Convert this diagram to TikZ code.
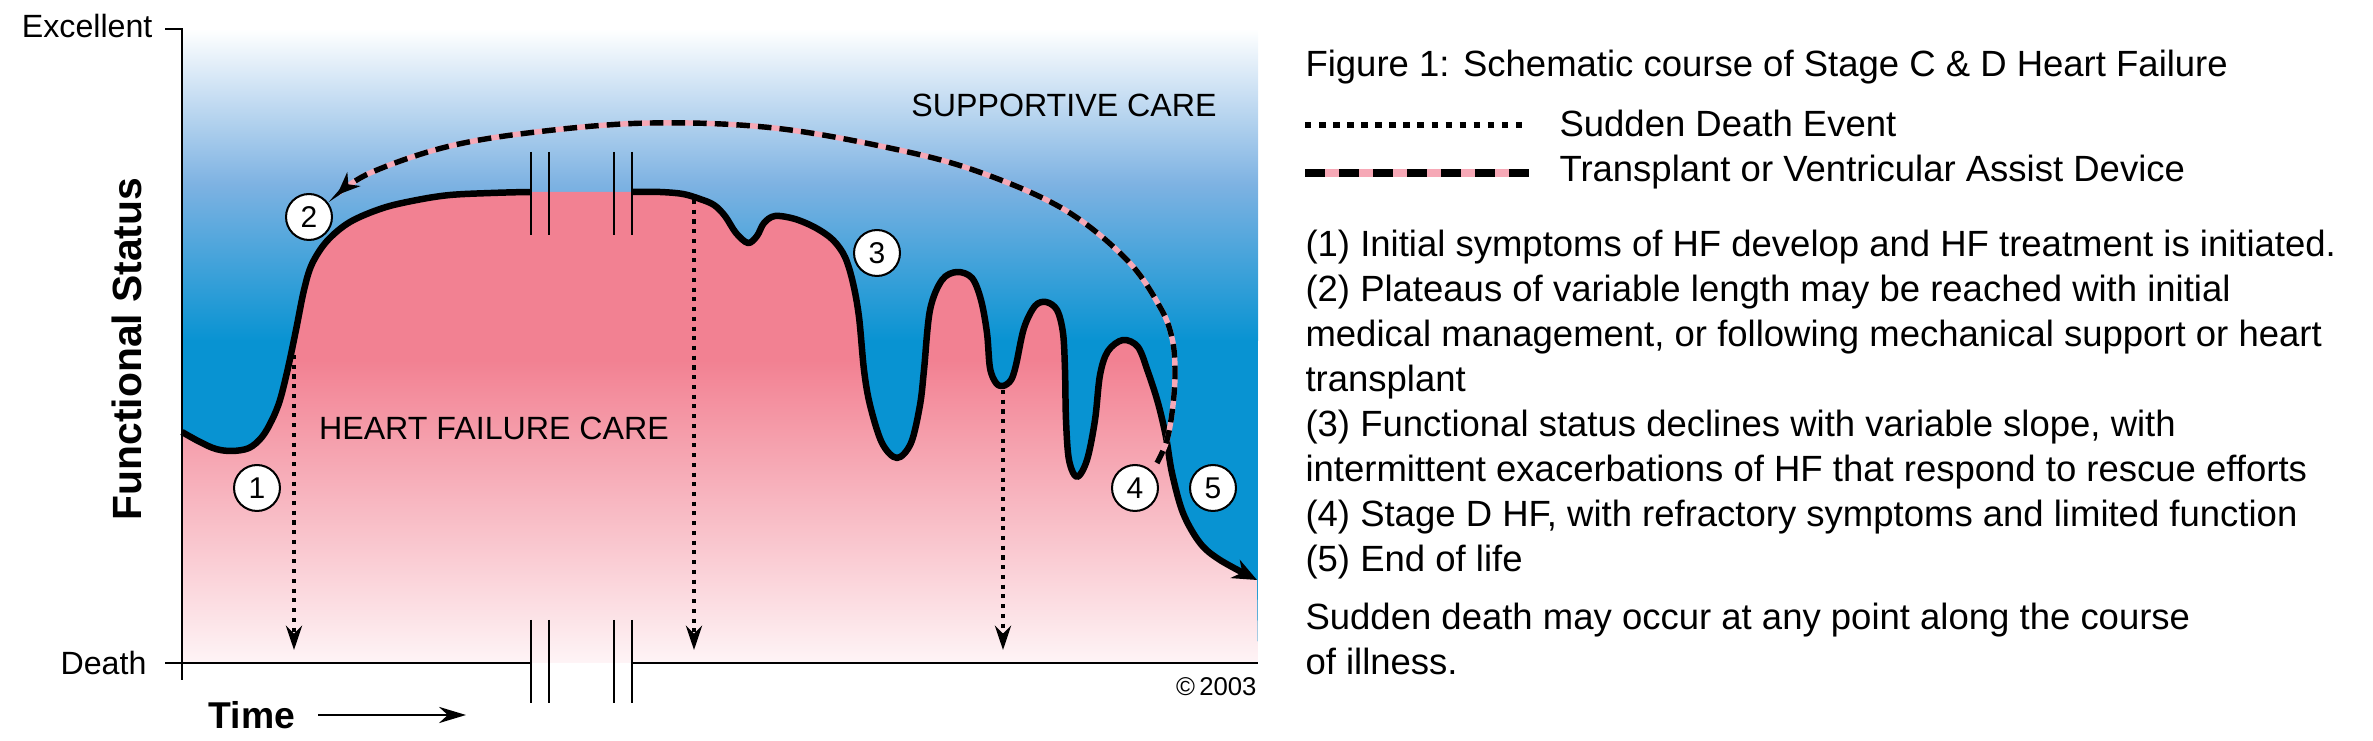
\documentclass[tikz,border=0pt]{standalone}
\usepackage{fontspec}
\setmainfont{Liberation Sans}
\usepackage{xcolor}
\usetikzlibrary{arrows.meta}
\definecolor{hfblue}{RGB}{8,147,210}
\definecolor{hfmidblue}{RGB}{125,178,226}
\definecolor{hfpink}{RGB}{242,129,146}
\definecolor{hfgap}{RGB}{246,168,182}
\definecolor{hffade}{RGB}{254,244,246}
\tikzset{
  hfcourse/.style={line width=2.4pt, line join=round, -{Stealth[length=9pt,width=7.5pt]}},
  axisline/.style={line width=0.75pt},
  breakmark/.style={line width=0.75pt},
  suddendeath/.style={line width=1.25pt, dash pattern=on 1.5pt off 2.1pt, -{Stealth[length=9pt,width=6pt]}},
  transplantgap/.style={draw=hfgap, line width=2pt},
  transplantdash/.style={line width=2pt, dash pattern=on 5pt off 3pt, -{Stealth[length=8.5pt,width=7pt]}},
  legenddot/.style={line width=2.2pt, dash pattern=on 2.4pt off 2.8pt},
  legendgap/.style={draw=hfgap, line width=2.6pt},
  legenddash/.style={line width=2.6pt, dash pattern=on 7.4pt off 5.2pt},
  timearrow/.style={line width=0.75pt, -{Stealth[length=10pt,width=6pt]}},
  stagemark/.style={draw, circle, fill=white, line width=0.75pt, minimum size=17pt, inner sep=0pt, font=\fontsize{11.1}{12}\selectfont},
  zonelabel/.style={inner sep=0pt, font=\fontsize{11.9}{13}\selectfont},
  captext/.style={inner sep=0pt, anchor=base west, font=\fontsize{13.5}{16}\selectfont}
}
\newcommand\hfpath{plot[smooth,tension=.55] coordinates {(182,432) (200,442) (216,449) (232,451) (249,448) (262,437) (272,420) (280,400) (288,368) (296,330) (304,290) (312,264) (327,241) (350,222) (383,208) (417,200) (450,195) (491,193) (531,192) (580,192) (632,192) (660,192) (683,194) (700,199) (714,205) (725,216) (736,233) (748,243) (757,236) (764,223) (775,216) (795,219) (816,228) (833,240) (845,257) (853,283) (859,317) (864,370) (870,405) (882,443) (897,458) (911,443) (920,405) (924,370) (930,310) (942,280) (957,272) (972,278) (981,300) (987,333) (990,368) (996,383) (1003,386) (1011,380) (1016,365) (1024,328) (1035,306) (1046,302) (1057,310) (1063,333) (1065,370) (1066,420) (1069,460) (1077,477) (1087,460) (1095,420) (1100,375) (1108,351) (1123,340) (1138,347) (1148,372) (1158,403) (1166,437) (1172,473) (1183,513) (1200,543) (1220,560) (1257,580)}}
\newcommand\txarc{plot[smooth,tension=.6] coordinates {(txfrom) (1167,440) (1173,405) (1175,370) (1172,338) (1160,307) (1127,260) (1065,210) (982,173) (899,150) (774,128) (650,123) (536,132) (446,147) (370,173) (txto)}}

\begin{document}
\begin{tikzpicture}[x=0.13mm,y=-0.13mm]
\useasboundingbox (0,0) rectangle (2373,741);
\shade[top color=white, bottom color=hfblue, middle color=hfmidblue] (182,29) rectangle (1258,341);
\fill[hfblue] (182,340) rectangle (1258,663);
\begin{scope}
\clip \hfpath -- (1258,663) -- (182,663) -- cycle;
\fill[hfpink] (182,180) rectangle (1258,361);
\shade[top color=hfpink, bottom color=hffade] (182,360) rectangle (1258,663);
\end{scope}
\begin{scope}
\clip (0,0) rectangle (531,741) (632,0) rectangle (2373,741);
\draw[hfcourse] \hfpath;
\end{scope}
\foreach \sx/\sy [count=\i] in {294/355,694/200,1003/390}{
  \coordinate (sdtop\i) at (\sx,\sy);
  \coordinate (sdend\i) at (\sx,650);
  \draw[suddendeath] (sdtop\i) -- (sdend\i);
}
\coordinate (txfrom) at (1157,463);
\coordinate (txto) at (337,195);
\draw[transplantgap, shorten >=4pt] \txarc;
\draw[transplantdash] \txarc;
\draw[axisline] (165,29) -- (182,29) -- (182,680);
\draw[axisline] (165,663) -- (531,663);
\draw[axisline] (632,663) -- (1258,663);
\foreach \x in {531,549,614,632}{
  \draw[breakmark] (\x,152) -- (\x,235);
  \draw[breakmark] (\x,620) -- (\x,703);
}
\foreach \n/\sx/\sy in {1/257/488,2/309/217,3/877/253,4/1135/488,5/1213/488}
  \node[stagemark] (stage\n) at (\sx,\sy) {\n};
\node[zonelabel, anchor=east] (excellent) at (153,26) {Excellent};
\node[zonelabel, anchor=east] (death) at (147,663) {Death};
\node[zonelabel] (supportive) at (1064,105) {SUPPORTIVE CARE};
\node[zonelabel] (hfcare) at (494,428) {HEART FAILURE CARE};
\node[rotate=90, inner sep=0pt, font=\bfseries\fontsize{15.1}{16}\selectfont] (fstatus) at (127,349) {Functional Status};
\node[anchor=west, inner sep=0pt, font=\bfseries\fontsize{13.8}{15}\selectfont] (time) at (208,715) {Time};
\coordinate (timeend) at (466,715);
\draw[timearrow] ([xshift=8.5pt]time.east) -- (timeend);
\node[anchor=east, inner sep=0pt, font=\fontsize{9.5}{10}\selectfont] (copyright) at (1257,687) {©\,2003};
\node[captext] (figtitle) at (1305,77) {Figure 1: Schematic course of Stage C \& D Heart Failure};
\coordinate (sdkeyL) at (1305,125);
\coordinate (sdkeyR) at (1529,125);
\draw[legenddot] (sdkeyL) -- (sdkeyR);
\node[captext] (sdkey) at (1559,137) {Sudden Death Event};
\coordinate (txkeyL) at (1305,173);
\coordinate (txkeyR) at (1529,173);
\draw[legendgap] (txkeyL) -- (txkeyR);
\draw[legenddash] (txkeyL) -- (txkeyR);
\node[captext] (txkey) at (1559,182) {Transplant or Ventricular Assist Device};
\foreach \ly/\txt [count=\i] in {
  257/{(1) Initial symptoms of HF develop and HF treatment is initiated.},
  302/{(2) Plateaus of variable length may be reached with initial},
  347/{medical management, or following mechanical support or heart},
  392/{transplant},
  437/{(3) Functional status declines with variable slope, with},
  482/{intermittent exacerbations of HF that respond to rescue efforts},
  527/{(4) Stage D HF, with refractory symptoms and limited function},
  572/{(5) End of life},
  630/{Sudden death may occur at any point along the course},
  675/{of illness.}}
  \node[captext] (note\i) at (1305,\ly) {\txt};
\end{tikzpicture}
\end{document}
